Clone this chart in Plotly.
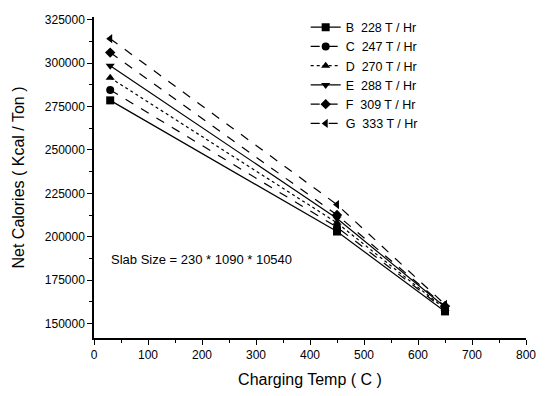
import plotly.graph_objects as go

temps = [30, 450, 650]
series_names = ["B  228 T / Hr", "C  247 T / Hr", "D  270 T / Hr",
                "E  288 T / Hr", "F  309 T / Hr", "G  333 T / Hr"]
B_vals = [278500, 203000, 157000]
C_vals = [284500, 205500, 158000]
D_vals = [291500, 208000, 158500]
E_vals = [298500, 210500, 159500]
F_vals = [306000, 212500, 160000]
G_vals = [314000, 218500, 161000]
x_ticks = [0, 100, 200, 300, 400, 500, 600, 700, 800]
y_ticks = [150000, 175000, 200000, 225000, 250000, 275000, 300000, 325000]

all_vals = [B_vals, C_vals, D_vals, E_vals, F_vals, G_vals]
symbols = ["square", "circle", "triangle-up", "triangle-down", "diamond", "triangle-left"]
dashes = ["solid", "dash", "dot", "solid", "dash", "dash"]

fig = go.Figure()
for name, vals, sym, dsh in zip(series_names, all_vals, symbols, dashes):
    fig.add_trace(go.Scatter(
        x=temps, y=vals, name=name, mode="lines+markers",
        line=dict(color="black", width=1.2, dash=dsh),
        marker=dict(symbol=sym, size=8, color="black"),
    ))

fig.add_annotation(x=28, y=187000, xref="x", yref="y", xanchor="left",
                   text="Slab Size = 230 * 1090 * 10540", showarrow=False,
                   font=dict(size=13, color="black"))

axis_common = dict(showline=True, linecolor="black", linewidth=1.5, ticks="outside",
                   tickcolor="black", ticklen=5, tickwidth=1.2, showgrid=False,
                   zeroline=False, mirror=False, automargin=False,
                   ticklabeloverflow="allow",
                   tickfont=dict(size=12, color="black", family="Liberation Sans"),
                   title_font=dict(size=16, color="black", family="Liberation Sans"))

fig.update_xaxes(range=[0, 800], tickvals=x_ticks, ticktext=[str(v) for v in x_ticks],
                 title_text="Charging Temp ( C )",
                 minor=dict(ticks="outside", ticklen=3, tickcolor="black", dtick=50),
                 title_standoff=15, **axis_common)
fig.update_yaxes(range=[141700, 326500], tickvals=y_ticks, ticktext=[str(v) for v in y_ticks],
                 title_text="Net Calories ( Kcal / Ton )",
                 minor=dict(ticks="outside", ticklen=3, tickcolor="black", dtick=12500, tick0=0),
                 title_standoff=16, **axis_common)

fig.update_layout(
    width=529, height=380,
    margin=dict(l=86, r=11, t=5, b=50),
    plot_bgcolor="white", paper_bgcolor="white",
    font=dict(family="Liberation Sans", color="black"),
    legend=dict(x=0.49, y=1.014, xanchor="left", yanchor="top",
                font=dict(size=12.5, color="black"), bgcolor="rgba(0,0,0,0)",
                tracegroupgap=0, itemwidth=30),
    showlegend=True,
)

fig.write_html("out.html")
